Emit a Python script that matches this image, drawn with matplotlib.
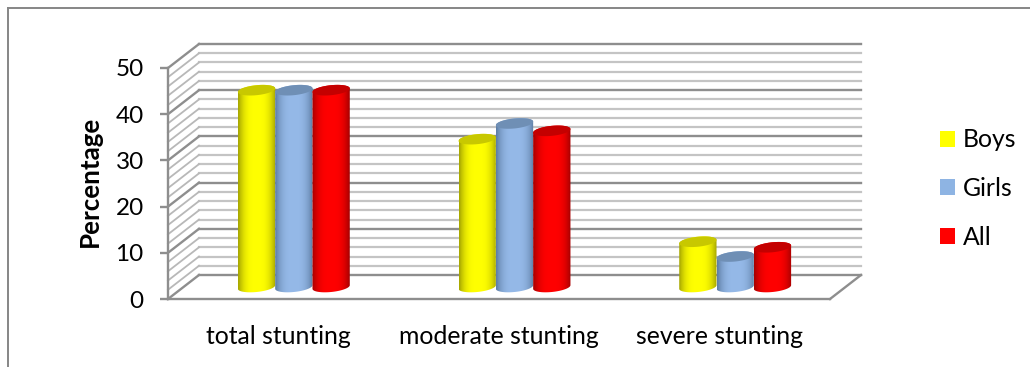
import numpy as np
import matplotlib
matplotlib.use("Agg")
import matplotlib.pyplot as plt
from matplotlib.patches import Polygon, Patch

categories = ["total stunting", "moderate stunting", "severe stunting"]
series_names = ["Boys", "Girls", "All"]
boys = [42.6, 32.0, 9.8]
girls = [42.6, 35.4, 6.6]
all_children = [42.6, 33.8, 8.6]
series_values = [boys, girls, all_children]
colors = ["#ffff00", "#95b9e8", "#ff0000"]
edge_colors = ["#a8a800", "#5f7fa6", "#a80000"]
cap_colors = ["#c8c800", "#6f8fb5", "#c40000"]
legend_colors = ["#ffff00", "#8eb4e3", "#ff0000"]

W, H = 1030, 367
plt.rcParams["font.family"] = ["Lato", "DejaVu Sans"]
fig = plt.figure(figsize=(W / 100, H / 100), dpi=100)
fig.patch.set_facecolor("white")

border = "#868686"
fig.add_artist(plt.Line2D([7.5 / W, 7.5 / W], [0, 1 - 7.5 / H], color=border, lw=1.4))
fig.add_artist(plt.Line2D([7.5 / W, 1], [1 - 7.5 / H, 1 - 7.5 / H], color=border, lw=1.4))

L, R, T, B = 168, 830, 68, 299
ax = fig.add_axes([L / W, 1 - B / H, (R - L) / W, (B - T) / H])
ax.set_xlim(-0.5, 2.5)
ax.set_ylim(0, 50)
ax.patch.set_visible(False)

px = (R - L) / 3.0
py = (B - T) / 50.0
depth_x = 31 / px
depth_y = 24 / py
x0, x1 = -0.5, 2.5

major_c, minor_c = "#8e8e8e", "#c4c4c4"
for v in np.arange(0, 51, 2):
    major = v % 10 == 0
    c = major_c if major else minor_c
    lw = 1.7 if major else 1.6
    z = 1.2 if major else 1
    ax.plot([x0 + depth_x, x1 + depth_x], [v + depth_y] * 2, color=c, lw=lw, clip_on=False, zorder=z)
    ax.plot([x0, x0 + depth_x], [v, v + depth_y], color=c if major else "#b8b8b8",
            lw=lw if major else 1.3, clip_on=False, zorder=z)
ax.plot([x1, x1 + depth_x], [0, depth_y], color=major_c, lw=1.7, clip_on=False, zorder=1.2)

for s in ("top", "right"):
    ax.spines[s].set_visible(False)
for s in ("left", "bottom"):
    ax.spines[s].set_color(major_c)
    ax.spines[s].set_linewidth(1.7)
    ax.spines[s].set_zorder(1.5)

ax.set_yticks(np.arange(0, 51, 10))
ax.set_xticks(range(3))
ax.set_xticklabels(categories)
ax.tick_params(axis="y", length=5.5, width=1.7, color=major_c, labelsize=17.5, pad=12)
ax.tick_params(axis="x", length=0, labelsize=17.8, pad=19)
ax.set_ylabel("Percentage", fontsize=18.6, fontweight="bold", labelpad=10, y=0.51)


def hex_rgb(h):
    return np.array(matplotlib.colors.to_rgb(h))


bar_w = 37.3 / px
mid_x = depth_x / 2
mid_y = depth_y / 2
a = bar_w / 2
b_px, tilt_px = 5.0, 1.8
t = np.linspace(0, 2 * np.pi, 80)


def ellipse(cx, cy):
    ex = cx + a * np.cos(t)
    ey = cy + (b_px * np.sin(t) + tilt_px * np.cos(t)) / py
    return np.column_stack([ex, ey])


u = np.linspace(-1, 1, 64)
for i, (vals, c, e, cap) in enumerate(zip(series_values, colors, edge_colors, cap_colors)):
    f = np.clip(np.abs(u) / 0.98, 0, 1) ** 3.0
    grad = (1 - f)[:, None] * hex_rgb(c) + f[:, None] * hex_rgb(e)
    grad = grad[None, :, :]
    for k, v in enumerate(vals):
        cx = k + (i - 1) * bar_w + mid_x
        base, top = mid_y, v + mid_y
        lo = ellipse(cx, base)
        hi = ellipse(cx, top)
        lower = lo[(t >= np.pi) & (t <= 2 * np.pi)]
        upper = hi[t <= np.pi]
        outline = np.vstack([lower, upper])
        zb = 3 + i * 0.1
        im = ax.imshow(grad, extent=[cx - a, cx + a, base - 3, top + 3], aspect="auto",
                       zorder=zb, interpolation="bilinear")
        clip = Polygon(outline, closed=True, transform=ax.transData, fc="none", ec="none")
        ax.add_patch(clip)
        im.set_clip_path(clip)
        ax.add_patch(Polygon(hi, closed=True, fc=cap, ec="none", zorder=zb + 0.01))

ax.set_xlim(-0.5, 2.5)
ax.set_ylim(0, 50)

handles = [Patch(fc=c, ec="none") for c in legend_colors]
fig.legend(handles, series_names, loc="center left", bbox_to_anchor=(933 / W, 1 - 188.5 / H),
           frameon=False, fontsize=17.8, handlelength=0.61, handleheight=0.61,
           handletextpad=0.3, labelspacing=1.04, borderpad=0.3, borderaxespad=0)

fig.savefig("out.png", dpi=100, facecolor="white")
